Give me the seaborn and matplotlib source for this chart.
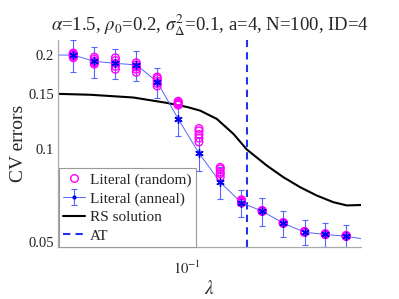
import seaborn as sns
import matplotlib
matplotlib.use("Agg")
import matplotlib.pyplot as plt
import matplotlib.ticker as mticker
from matplotlib.lines import Line2D
import pandas as pd

# lambda grid (two ends fall just outside the axes)
lam = [0.0329, 0.0391, 0.0465, 0.0553, 0.0657, 0.0780, 0.0927, 0.110, 0.131,
       0.156, 0.185, 0.220, 0.262, 0.311, 0.369, 0.438]
anneal_err = [0.200, 0.200, 0.191, 0.188, 0.186, 0.164, 0.1246, 0.0966, 0.0779,
              0.0669, 0.0629, 0.0575, 0.0538, 0.0529, 0.0522, 0.0509]
anneal_std = [0.024, 0.024, 0.022, 0.021, 0.0205, 0.018, 0.0146, 0.012, 0.0091,
              0.0068, 0.0065, 0.0054, 0.0050, 0.0048, 0.0046, 0.0045]

# random restarts, several runs per lambda
lam_rand = [0.0391, 0.0465, 0.0553, 0.0657, 0.0780, 0.0927, 0.110, 0.131,
            0.156, 0.185, 0.220, 0.262, 0.311, 0.369]
rand_err = [
    [0.196, 0.198, 0.200, 0.202, 0.203],
    [0.187, 0.189, 0.191, 0.194, 0.197],
    [0.180, 0.184, 0.188, 0.192, 0.196],
    [0.176, 0.180, 0.183, 0.186, 0.189],
    [0.159, 0.162, 0.165, 0.168, 0.170],
    [0.138, 0.139, 0.140, 0.141, 0.142],
    [0.105, 0.108, 0.111, 0.114, 0.116],
    [0.081, 0.083, 0.084, 0.086, 0.087],
    [0.0668, 0.0672, 0.0676, 0.0680, 0.0684],
    [0.0627, 0.0629, 0.0630, 0.0631, 0.0632],
    [0.0574, 0.0575, 0.0576, 0.0577, 0.0578],
    [0.0537, 0.0538, 0.0539, 0.0540, 0.0541],
    [0.0528, 0.0529, 0.0530, 0.0531, 0.0532],
    [0.0521, 0.0522, 0.0523, 0.0524, 0.0525],
]

# replica symmetric curve
lam_rs = [0.0346, 0.045, 0.0641, 0.0844, 0.100, 0.111, 0.1273, 0.146, 0.163,
          0.192, 0.220, 0.2527, 0.2897, 0.332, 0.371, 0.417]
rs_err = [0.1500, 0.1490, 0.1460, 0.1403, 0.1360, 0.1325, 0.1246, 0.1115, 0.0993,
          0.0882, 0.0809, 0.0751, 0.0706, 0.0672, 0.0656, 0.0658]

lam_at = 0.1634

sns.set_style("white")
plt.rcParams["font.family"] = ["Liberation Serif", "DejaVu Serif"]
plt.rcParams["mathtext.fontset"] = "stix"

fig = plt.figure(figsize=(3.99, 2.99), dpi=100)
ax = fig.add_axes([0.1454, 0.1739, 0.7594, 0.6923])

rows = []
for l, vals in zip(lam_rand, rand_err):
    for v in vals:
        rows.append({"lam": l, "err": v})
randdata = pd.DataFrame(rows)

line_blue = "#5566ff"
eb = ax.errorbar(lam, anneal_err, yerr=anneal_std, color=line_blue, lw=0.7,
                 elinewidth=0.8, capsize=2.5, capthick=0.8, marker=".", ms=4,
                 mfc="#0000ee", mec="#0000ee", zorder=2)
sns.scatterplot(data=randdata, x="lam", y="err", ax=ax, marker="o", s=30,
                facecolor="none", edgecolor="#ff00ff", linewidth=1.0, zorder=3)
ax.plot(lam, anneal_err, linestyle="none", marker=(6, 2, 0), ms=6,
        mec="#0000ee", mew=1.0, zorder=4)
sns.lineplot(x=lam_rs, y=rs_err, ax=ax, color="black", lw=1.5, sort=False,
             zorder=1)
ax.axvline(lam_at, color="#2233ee", lw=1.5, ls=(0, (3.5, 2.5)), zorder=1)

ax.set_xscale("log")
ax.set_yscale("log")
ax.set_xlim(0.0345, 0.417)
ax.set_ylim(0.0482, 0.2236)

ax.xaxis.set_major_locator(mticker.FixedLocator([0.1]))
ax.xaxis.set_major_formatter(mticker.FixedFormatter([r"$10^{-1}$"]))
ax.xaxis.set_minor_locator(mticker.FixedLocator([0.04, 0.05, 0.06, 0.07, 0.08, 0.09, 0.2, 0.3, 0.4]))
ax.xaxis.set_minor_formatter(mticker.NullFormatter())
ax.yaxis.set_major_locator(mticker.FixedLocator([0.05, 0.1, 0.15, 0.2]))
ax.yaxis.set_major_formatter(mticker.FixedFormatter(["0.05", "0.1", "0.15", "0.2"]))
ax.yaxis.set_minor_locator(mticker.FixedLocator([i / 100 for i in range(5, 23)]))
ax.yaxis.set_minor_formatter(mticker.NullFormatter())

for side in ["top", "right"]:
    ax.spines[side].set_visible(False)
for side in ["left", "bottom"]:
    ax.spines[side].set_color("#aaaaaa")
    ax.spines[side].set_linewidth(0.9)
ax.tick_params(which="both", direction="in", color="#888888", labelsize=10.5,
               labelcolor="#222222")
ax.tick_params(axis="y", which="both", pad=3)
ax.tick_params(axis="x", which="both", pad=9)
ax.tick_params(which="major", length=3.5)
ax.tick_params(which="minor", length=2)

ax.set_xlabel(r"$\lambda$", fontsize=14, labelpad=2)
ax.set_ylabel("CV errors", fontsize=14, labelpad=1)
ax.set_title(r"$\alpha$=1.5, $\rho_0$=0.2, $\sigma^2_\Delta$=0.1, a=4, N=100, ID=4",
             fontsize=13.5, pad=7)

handles = [
    Line2D([], [], ls="none", marker="o", mfc="none", mec="#ff00ff", ms=5.5, mew=1.0),
    eb,
    Line2D([], [], color="black", lw=1.5),
    Line2D([], [], color="#2233ee", lw=1.5, ls=(0, (3.5, 2.5))),
]
labels = ["Literal (random)", "Literal (anneal)", "RS solution", "AT"]
leg = ax.legend(handles, labels, loc="upper left", bbox_to_anchor=(0.002, 0.38),
                borderaxespad=0, fontsize=11, frameon=True, fancybox=False,
                framealpha=1, edgecolor="#999999", handlelength=1.4,
                handletextpad=0.35, labelspacing=0.32, borderpad=0.3)
leg.get_frame().set_linewidth(0.8)

plt.savefig("out.png", dpi=100)
plt.close()
